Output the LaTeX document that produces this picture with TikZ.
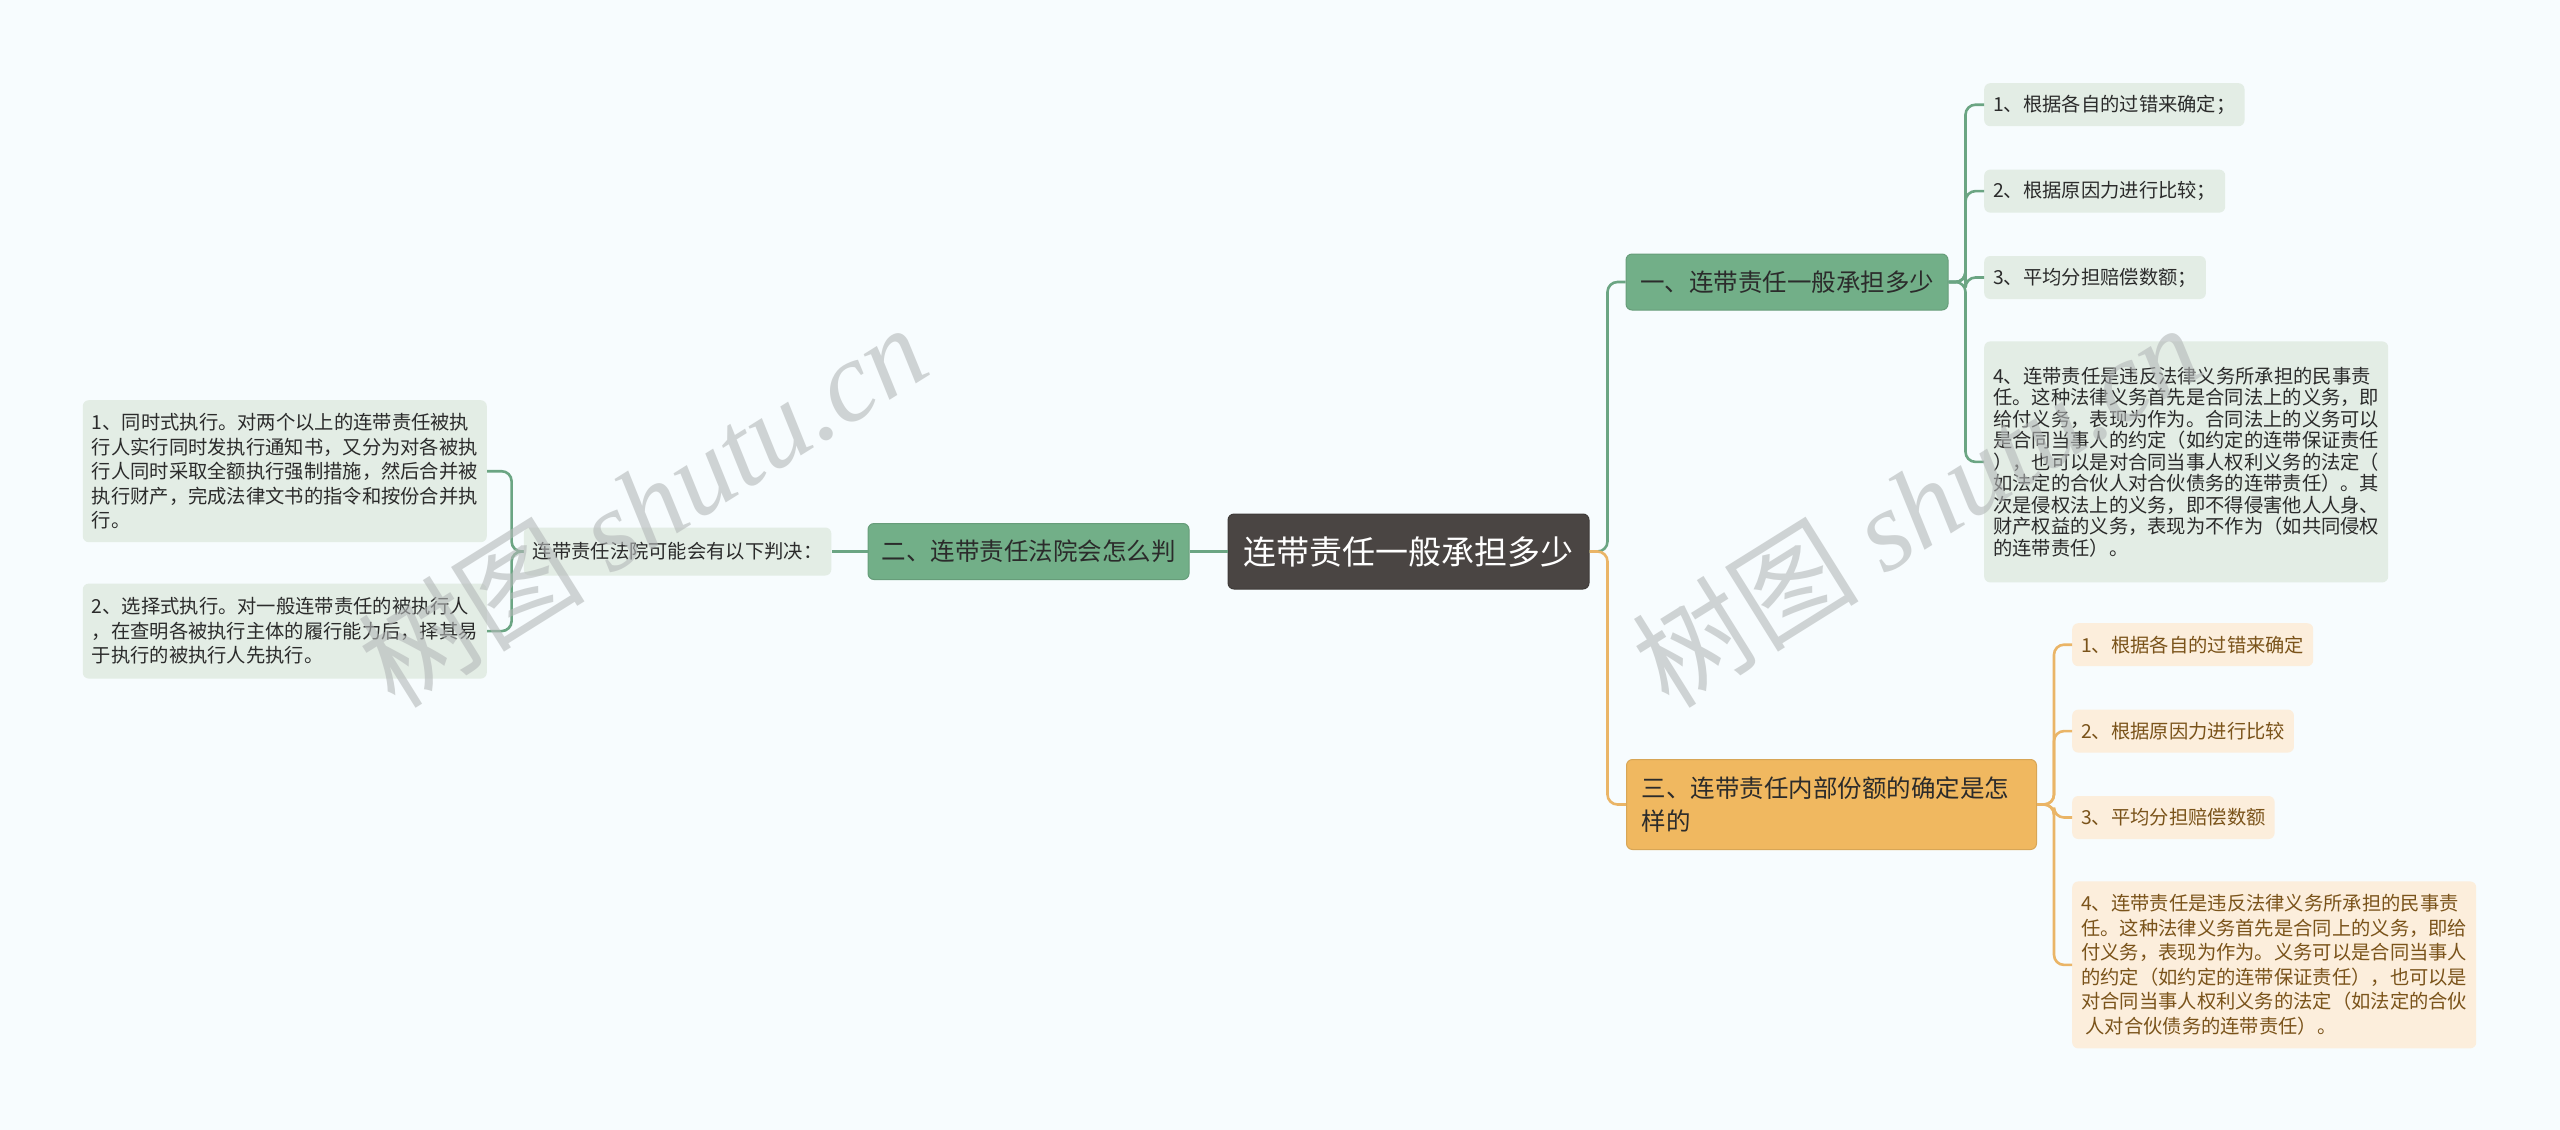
\documentclass[tikz,border=0pt]{standalone}
\usepackage{fontspec}
\setmainfont{Noto Sans CJK SC}
\newfontfamily\wmserif{Liberation Serif}
\usetikzlibrary{positioning}

\definecolor{bgpaper}{HTML}{F7FCFE}
\definecolor{rootgray}{HTML}{4A4543}
\definecolor{topicgreen}{HTML}{72AF88}
\definecolor{topicorange}{HTML}{F0B860}
\definecolor{leafgreen}{HTML}{E3EDE5}
\definecolor{leaforange}{HTML}{FCEEDC}
\definecolor{linegreen}{HTML}{6BA583}
\definecolor{lineorange}{HTML}{EAB567}
\definecolor{inkdark}{HTML}{2B2B2B}
\definecolor{inkbrown}{HTML}{7A531A}
\definecolor{wmgray}{HTML}{B4B8B8}

\begin{document}
\begin{tikzpicture}[
  x=1pt, y=-1pt,
  rootbox/.style={fill=rootgray, draw=rootgray!85!black, line width=1pt,
                  rounded corners=6pt, text=white, inner sep=0pt,
                  font=\fontsize{33}{40}\selectfont,
                  minimum width=361pt, minimum height=75pt},
  topic/.style={fill=topicgreen, draw=topicgreen!90!black, line width=1pt,
                rounded corners=6pt, text=inkdark, inner xsep=13pt, inner ysep=0pt,
                font=\fontsize{24.5}{33}\selectfont, minimum height=56pt},
  leaf/.style={fill=leafgreen, rounded corners=6pt, text=inkdark, align=left,
               inner xsep=9pt, inner ysep=0pt, minimum height=43pt,
               font=\fontsize{19.3}{24.5}\selectfont},
  leafo/.style={leaf, fill=leaforange, text=inkbrown},
  glink/.style={draw=linegreen, line width=2.6pt, rounded corners=10pt},
  olink/.style={glink, draw=lineorange},
  wm/.style={text=wmgray, opacity=0.6, inner sep=0pt, rotate=32, anchor=south west,
             font=\fontsize{114}{114}\selectfont},
]
\useasboundingbox (0,0) rectangle (2560,1130);
\fill[bgpaper] (0,0) rectangle (2560,1130);

% central topic
\node[rootbox] (root) at (1408.5,551.5) {连带责任一般承担多少};

% first level
\node[topic, minimum width=322pt] (t1) at (1787,282) {一、连带责任一般承担多少};
\node[topic, minimum width=321pt, left=38pt of root] (t2) {二、连带责任法院会怎么判};
\node[topic, fill=topicorange, draw=topicorange!90!black, text width=380pt,
      align=left, minimum width=410pt, minimum height=90pt, anchor=north west]
  (t3) at (1626,759) {三、连带责任内部份额的确定是怎\\样的};

% branch one
\node[leaf, anchor=north west] (g1) at (1984,83) {1、根据各自的过错来确定；};
\node[leaf, below=43pt of g1.south west, anchor=north west] (g2) {2、根据原因力进行比较；};
\node[leaf, below=43pt of g2.south west, anchor=north west] (g3) {3、平均分担赔偿数额；};
\node[leaf, below=42pt of g3.south west, anchor=north west, minimum height=241pt,
      font=\fontsize{19.3}{21.5}\selectfont] (g4) {
  4、连带责任是违反法律义务所承担的民事责\\
  任。这种法律义务首先是合同法上的义务，即\\
  给付义务，表现为作为。合同法上的义务可以\\
  是合同当事人的约定（如约定的连带保证责任\\
  ），也可以是对合同当事人权利义务的法定（\\
  如法定的合伙人对合伙债务的连带责任）。其\\
  次是侵权法上的义务，即不得侵害他人人身、\\
  财产权益的义务，表现为不作为（如共同侵权\\
  的连带责任）。};

% branch two
\node[leaf, left=36pt of t2, minimum height=48pt] (lab) {连带责任法院可能会有以下判决：};
\node[leaf, anchor=north east, minimum height=142pt] (l1) at (487,400) {
  1、同时式执行。对两个以上的连带责任被执\\
  行人实行同时发执行通知书，又分为对各被执\\
  行人同时采取全额执行强制措施，然后合并被\\
  执行财产，完成法律文书的指令和按份合并执\\
  行。};
\node[leaf, below=41pt of l1.south east, anchor=north east, minimum height=95pt] (l2) {
  2、选择式执行。对一般连带责任的被执行人\\
  ，在查明各被执行主体的履行能力后，择其易\\
  于执行的被执行人先执行。};

% branch three
\node[leafo, anchor=north west] (o1) at (2072,623) {1、根据各自的过错来确定};
\node[leafo, below=43pt of o1.south west, anchor=north west] (o2) {2、根据原因力进行比较};
\node[leafo, below=43pt of o2.south west, anchor=north west] (o3) {3、平均分担赔偿数额};
\node[leafo, below=42pt of o3.south west, anchor=north west, minimum height=167pt] (o4) {
  4、连带责任是违反法律义务所承担的民事责\\
  任。这种法律义务首先是合同上的义务，即给\\
  付义务，表现为作为。义务可以是合同当事人\\
  的约定（如约定的连带保证责任），也可以是\\
  对合同当事人权利义务的法定（如法定的合伙\\
  \ 人对合伙债务的连带责任）。};

% connectors
\draw[glink] (root.east) -- ++(18,0) |- (t1.west);
\draw[olink] (root.east) -- ++(18,0) |- (t3.west);
\draw[glink] (root.west) -- (t2.east);
\draw[glink] (t2.west) -- (lab.east);
\foreach \n in {l1,l2}
  \draw[glink] (lab.west) -- ++(-12,0) |- (\n.east);
\foreach \n in {g1,g2,g3,g4}
  \draw[glink] (t1.east) -- ++(17,0) |- (\n.west);
\foreach \n in {o1,o2,o3,o4}
  \draw[olink] (t3.east) -- ++(17,0) |- (\n.west);

% watermark
\node[wm] (wm1) at (400,718) {树图 {\wmserif\itshape shutu.cn}};
\node[wm] (wm2) at (1674,718) {树图 {\wmserif\itshape shutu.cn}};
\end{tikzpicture}
\end{document}
